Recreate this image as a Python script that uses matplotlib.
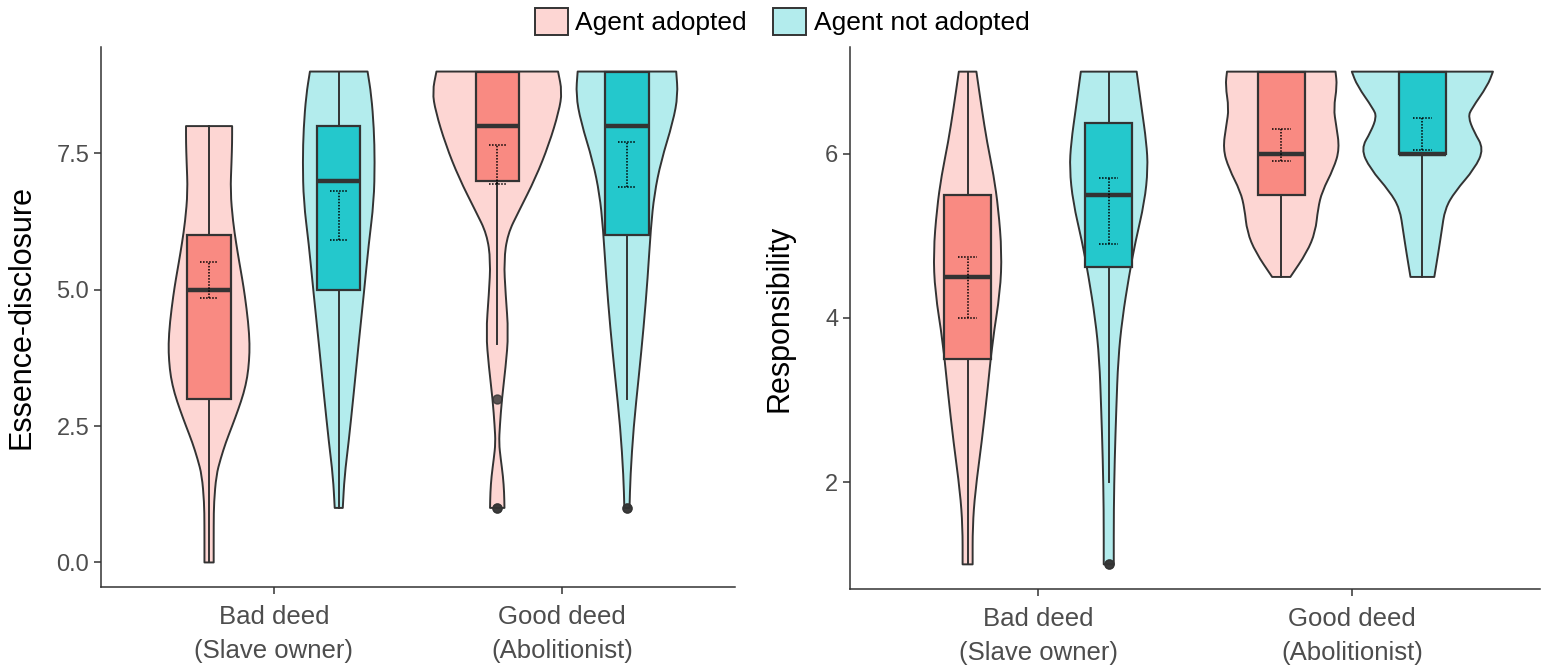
import matplotlib
matplotlib.use("Agg")
import matplotlib.pyplot as plt
from matplotlib.patches import Patch, PathPatch
from matplotlib.path import Path
import numpy as np

plt.rcParams['font.family'] = ['Liberation Sans', 'DejaVu Sans']

#========================================================================================
groups = ["Agent adopted", "Agent not adopted"]
deeds = ["Bad deed\n(Slave owner)", "Good deed\n(Abolitionist)"]

# violin outlines: y level -> half width (x units)
ess_bad_adopt_y = [0.0, 0.7, 1.1, 1.6, 1.9, 2.2, 2.5, 2.8, 3.1, 3.4, 3.7, 4.0, 4.4, 4.9, 5.2, 5.5, 5.85, 6.25, 6.8, 7.35, 7.7, 8.0]
ess_bad_adopt_w = [0.016, 0.016, 0.017, 0.025, 0.040, 0.058, 0.080, 0.101, 0.120, 0.133, 0.139, 0.141, 0.136, 0.124, 0.115, 0.105, 0.094, 0.083, 0.074, 0.078, 0.080, 0.080]
ess_bad_not_y = [1.0, 1.58, 2.19, 3.1, 4.01, 4.92, 5.84, 6.62, 7.35, 7.96, 8.57, 9.0]
ess_bad_not_w = [0.014, 0.020, 0.034, 0.052, 0.069, 0.087, 0.104, 0.122, 0.125, 0.122, 0.113, 0.100]
ess_good_adopt_y = [1.0, 1.28, 1.58, 1.9, 2.19, 2.5, 2.99, 3.58, 4.2, 4.92, 5.53, 6.02, 6.44, 7.05, 7.66, 8.27, 8.63, 9.0]
ess_good_adopt_w = [0.025, 0.024, 0.020, 0.012, 0.006, 0.009, 0.016, 0.029, 0.039, 0.029, 0.023, 0.036, 0.075, 0.133, 0.179, 0.214, 0.225, 0.211]
ess_good_not_y = [1.0, 1.58, 2.48, 3.4, 4.31, 5.22, 6.14, 6.75, 7.35, 8.08, 8.57, 9.0]
ess_good_not_w = [0.009, 0.012, 0.023, 0.041, 0.058, 0.072, 0.083, 0.095, 0.118, 0.160, 0.177, 0.171]

resp_bad_adopt_y = [1.0, 1.46, 1.88, 2.49, 3.10, 3.71, 4.32, 4.80, 5.33, 5.74, 6.14, 6.55, 7.0]
resp_bad_adopt_w = [0.016, 0.016, 0.024, 0.045, 0.063, 0.079, 0.104, 0.109, 0.098, 0.083, 0.062, 0.045, 0.028]
resp_bad_not_y = [1.0, 1.67, 2.28, 2.89, 3.5, 3.99, 4.52, 4.93, 5.41, 5.82, 6.14, 6.55, 7.0]
resp_bad_not_w = [0.016, 0.016, 0.019, 0.024, 0.030, 0.043, 0.065, 0.085, 0.114, 0.125, 0.120, 0.105, 0.089]
resp_good_adopt_y = [4.5, 4.8, 5.05, 5.33, 5.54, 5.82, 6.06, 6.35, 6.55, 6.83, 7.0]
resp_good_adopt_w = [0.029, 0.082, 0.109, 0.117, 0.130, 0.167, 0.186, 0.175, 0.167, 0.178, 0.173]
resp_good_not_y = [4.5, 4.8, 5.05, 5.33, 5.54, 5.82, 6.06, 6.27, 6.45, 6.55, 6.83, 7.0]
resp_good_not_w = [0.038, 0.051, 0.061, 0.072, 0.104, 0.167, 0.196, 0.164, 0.146, 0.157, 0.208, 0.225]

# box / error bar stats, order: bad-adopted, bad-not, good-adopted, good-not
ess_q1 = [3, 5, 7, 6]
ess_med = [5, 7, 8, 8]
ess_q3 = [6, 8, 9, 9]
ess_wlo = [0, 1, 4, 3]
ess_whi = [8, 9, 9, 9]
ess_ci_lo = [4.85, 5.91, 6.93, 6.88]
ess_ci_hi = [5.51, 6.81, 7.66, 7.70]
ess_out = [[], [], [3, 1, 1], [1, 1]]

resp_q1 = [3.5, 4.625, 5.5, 6]
resp_med = [4.5, 5.5, 6, 6]
resp_q3 = [5.5, 6.375, 7, 7]
resp_wlo = [1, 2, 4.5, 4.5]
resp_whi = [7, 7, 7, 7]
resp_ci_lo = [4.0, 4.90, 5.91, 6.05]
resp_ci_hi = [4.74, 5.71, 6.30, 6.44]
resp_out = [[], [1, 1], [], []]

#========================================================================================
light = ["#FDD6D3", "#B3ECED"]
dark = ["#F98A82", "#24C8CC"]
ink = "#333333"
pos = [0.775, 1.225, 1.775, 2.225]


def edge(pts, verts, codes):
    # smooth run through the read points (quadratic pieces), ends kept exact
    verts.append((pts[0] + pts[1]) / 2)
    codes.append(Path.LINETO)
    for i in range(1, len(pts) - 1):
        verts += [pts[i], (pts[i] + pts[i + 1]) / 2]
        codes += [Path.CURVE3, Path.CURVE3]
    verts.append(pts[-1])
    codes.append(Path.LINETO)


def violin(ax, x, yy, ww, color):
    yy = np.array(yy)
    ww = np.array(ww)
    left = np.column_stack([x - ww, yy])
    right = np.column_stack([x + ww, yy])[::-1]
    verts = [left[0]]
    codes = [Path.MOVETO]
    edge(left, verts, codes)
    verts.append(right[0])
    codes.append(Path.LINETO)
    edge(right, verts, codes)
    verts.append(left[0])
    codes.append(Path.CLOSEPOLY)
    ax.add_patch(PathPatch(Path(np.array(verts), codes), facecolor=color,
                           edgecolor=ink, linewidth=1.4, joinstyle='round', zorder=1))


def panel(ax, prof, q1, med, q3, wlo, whi, ci_lo, ci_hi, out, ylabel, ylim, yticks, yfmt, lpad):
    for i, (yy, ww) in enumerate(prof):
        violin(ax, pos[i], yy, ww, light[i % 2])
    stats = [dict(med=med[i], q1=q1[i], q3=q3[i], whislo=wlo[i], whishi=whi[i], fliers=out[i])
             for i in range(4)]
    bp = ax.bxp(stats, positions=pos, widths=0.15, patch_artist=True, showcaps=False,
                boxprops=dict(edgecolor=ink, linewidth=1.6),
                medianprops=dict(color=ink, linewidth=3.2, solid_capstyle='butt'),
                whiskerprops=dict(color=ink, linewidth=1.4),
                flierprops=dict(marker='o', markerfacecolor=ink, markeredgecolor=ink,
                                markersize=6.5, alpha=0.8),
                manage_ticks=False, zorder=2)
    for i, b in enumerate(bp['boxes']):
        b.set_facecolor(dark[i % 2])
    cw = 0.03
    xs = np.array(pos)
    ax.vlines(xs, ci_lo, ci_hi, colors='black', linestyles=(0, (1, 1)), linewidth=1.1, zorder=4)
    ax.hlines(ci_lo, xs - cw, xs + cw, colors='black', linestyles=(0, (1, 1)), linewidth=1.1, zorder=4)
    ax.hlines(ci_hi, xs - cw, xs + cw, colors='black', linestyles=(0, (1, 1)), linewidth=1.1, zorder=4)

    ax.set_xlim(0.4, 2.6)
    ax.set_ylim(*ylim)
    ax.set_xticks([1, 2])
    ax.set_xticklabels(deeds, linespacing=1.5)
    ax.set_yticks(yticks)
    ax.set_yticklabels([yfmt.format(t) for t in yticks])
    ax.set_ylabel(ylabel, fontsize=22, color='black', labelpad=lpad)
    for s in ['top', 'right']:
        ax.spines[s].set_visible(False)
    for s in ['left', 'bottom']:
        ax.spines[s].set_color(ink)
        ax.spines[s].set_linewidth(1.1)
    ax.tick_params(axis='both', length=5, width=1.1, color=ink, labelcolor='#4D4D4D', labelsize=17)
    ax.tick_params(axis='x', labelsize=18.5, pad=8)


fig = plt.figure(figsize=(15.43, 6.68), dpi=100)
ax1 = fig.add_axes([101 / 1543, 81 / 668, 634 / 1543, 540 / 668])
ax2 = fig.add_axes([850 / 1543, 79 / 668, 690 / 1543, 542 / 668])

panel(ax1,
      [(ess_bad_adopt_y, ess_bad_adopt_w), (ess_bad_not_y, ess_bad_not_w),
       (ess_good_adopt_y, ess_good_adopt_w), (ess_good_not_y, ess_good_not_w)],
      ess_q1, ess_med, ess_q3, ess_wlo, ess_whi, ess_ci_lo, ess_ci_hi, ess_out,
      "Essence-disclosure", (-0.45, 9.45), [0.0, 2.5, 5.0, 7.5], "{:.1f}", 14)
panel(ax2,
      [(resp_bad_adopt_y, resp_bad_adopt_w), (resp_bad_not_y, resp_bad_not_w),
       (resp_good_adopt_y, resp_good_adopt_w), (resp_good_not_y, resp_good_not_w)],
      resp_q1, resp_med, resp_q3, resp_wlo, resp_whi, resp_ci_lo, resp_ci_hi, resp_out,
      "Responsibility", (0.7, 7.3), [2, 4, 6], "{:d}", 22)

handles = [Patch(facecolor=light[k], edgecolor=ink, linewidth=1.4) for k in range(2)]
fig.legend(handles, groups, loc='upper center', bbox_to_anchor=(0.507, 1.012), ncol=2,
           frameon=False, fontsize=19, handlelength=1.25, handleheight=1.2,
           handletextpad=0.3, columnspacing=1.0, borderaxespad=0.2)

fig.savefig("out.png", dpi=100)
